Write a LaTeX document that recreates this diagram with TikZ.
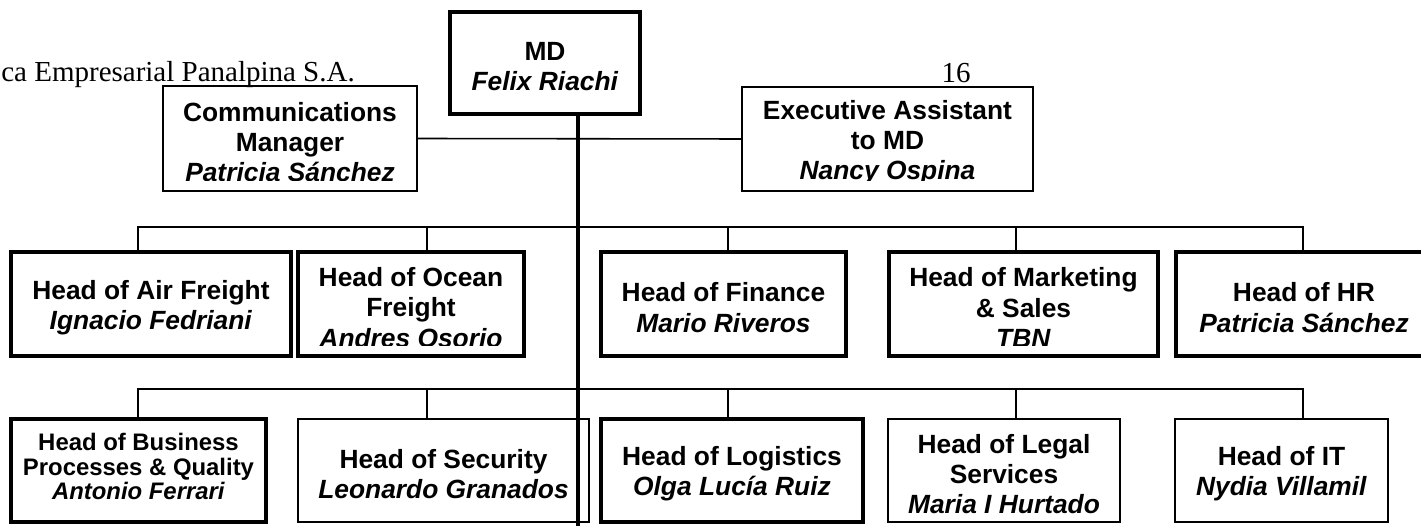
\documentclass[tikz,border=0pt]{standalone}
\usepackage{fontspec}
\setmainfont{Liberation Sans}
\newfontfamily\pagefont{Liberation Serif}
\usetikzlibrary{fit}

\tikzset{
  post/.style={draw, line width=2.3pt, inner sep=0pt, outer sep=0pt},
  postthin/.style={draw, line width=1pt, inner sep=0pt, outer sep=0pt},
  txt/.style={align=center, inner sep=0pt, yshift=-0.07cm, font=\fontsize{15}{17.2}\selectfont\bfseries},
  txtsmall/.style={align=center, inner sep=0pt, yshift=0.08cm, font=\fontsize{13.6}{13.8}\selectfont\bfseries},
  bus/.style={line width=1.1pt, line cap=rect},
  drop/.style={line width=0.9pt},
  trunk/.style={line width=1.9pt}
}

% text of a box, cut off a little above its lower edge
\newcommand\cutoff{0.2cm}
\newcommand\boxtext[3][txt]{%
  \begin{scope}
    \clip ([yshift=\cutoff]#2.south west) rectangle (#2.north east);
    \node[#1] (#2-t) at (#2.center) {#3};
  \end{scope}}

\begin{document}
\begin{tikzpicture}[x=0.02cm, y=-0.02cm]
    \useasboundingbox (0,0) rectangle (1421,526);

    % page header
    \node[anchor=base west, inner sep=0pt, font=\pagefont\fontsize{16.5}{18}\selectfont] (hdr) at (1,82) {ca Empresarial Panalpina S.A.};
    \node[anchor=base, inner sep=0pt, font=\pagefont\fontsize{16.5}{18}\selectfont] (pgno) at (956,83) {16};

    % top
    \node[post, fit={(450,12) (640,114)}] (md) {};
    \boxtext{md}{MD\\\textit{Felix Riachi}}
    \node[postthin, fit={(163,86) (417,191)}] (comm) {};
    \boxtext{comm}{Communications\\Manager\\\textit{Patricia Sánchez}}
    \node[postthin, fit={(742,87) (1033,191)}] (exec) {};
    \boxtext{exec}{Executive Assistant\\to MD\\\textit{Nancy Ospina}}

    % first row
    \node[post, fit={(11,252) (291,356)}] (air) {};
    \boxtext{air}{Head of Air Freight\\\textit{Ignacio Fedriani}}
    \node[post, fit={(298,252) (524,356)}] (ocean) {};
    \boxtext{ocean}{Head of Ocean\\Freight\\\textit{Andres Osorio}}
    \node[post, fit={(601,252) (846,356)}] (fin) {};
    \boxtext{fin}{Head of Finance\\\textit{Mario Riveros}}
    \node[post, fit={(889,252) (1158,356)}] (mkt) {};
    \boxtext{mkt}{Head of Marketing\\\& Sales\\\textit{TBN}}
    \node[post, fit={(1176,252) (1432,356)}] (hr) {};
    \boxtext{hr}{Head of HR\\\textit{Patricia Sánchez}}

    % second row
    \renewcommand\cutoff{0.16cm}
    \node[post, fit={(11,419) (266,522)}] (bpq) {};
    \boxtext[txtsmall]{bpq}{Head of Business\\Processes \& Quality\\\textit{Antonio Ferrari}}
    \node[postthin, fit={(298,419) (589,522)}] (sec) {};
    \boxtext{sec}{Head of Security\\\textit{Leonardo Granados}}
    \node[post, fit={(601,419) (863,522)}] (log) {};
    \boxtext{log}{Head of Logistics\\\textit{Olga Lucía Ruiz}}
    \node[postthin, fit={(888,419) (1120,522)}] (legal) {};
    \boxtext{legal}{Head of Legal\\Services\\\textit{Maria I Hurtado}}
    \node[postthin, fit={(1175,419) (1388,522)}] (it) {};
    \boxtext{it}{Head of IT\\\textit{Nydia Villamil}}

    % lines
    \coordinate (foot) at (578,526);
    \draw[trunk] (md.south -| foot) -- (foot);
    \draw[drop] (comm.east) -- (exec.west);

    \coordinate (b1w) at (138,227);
    \coordinate (b1e) at (1303,227);
    \draw[bus] (b1w) -- (b1e);
    \foreach \x/\n in {138/air, 427/ocean, 728/fin, 1016/mkt, 1303/hr}
        \draw[drop] (\x,227) -- (\x,227 |- \n.north);

    \coordinate (b2w) at (138,389);
    \coordinate (b2e) at (1303,389);
    \draw[bus] (b2w) -- (b2e);
    \foreach \x/\n in {138/bpq, 427/sec, 728/log, 1016/legal, 1303/it}
        \draw[drop] (\x,389) -- (\x,389 |- \n.north);
\end{tikzpicture}
\end{document}
